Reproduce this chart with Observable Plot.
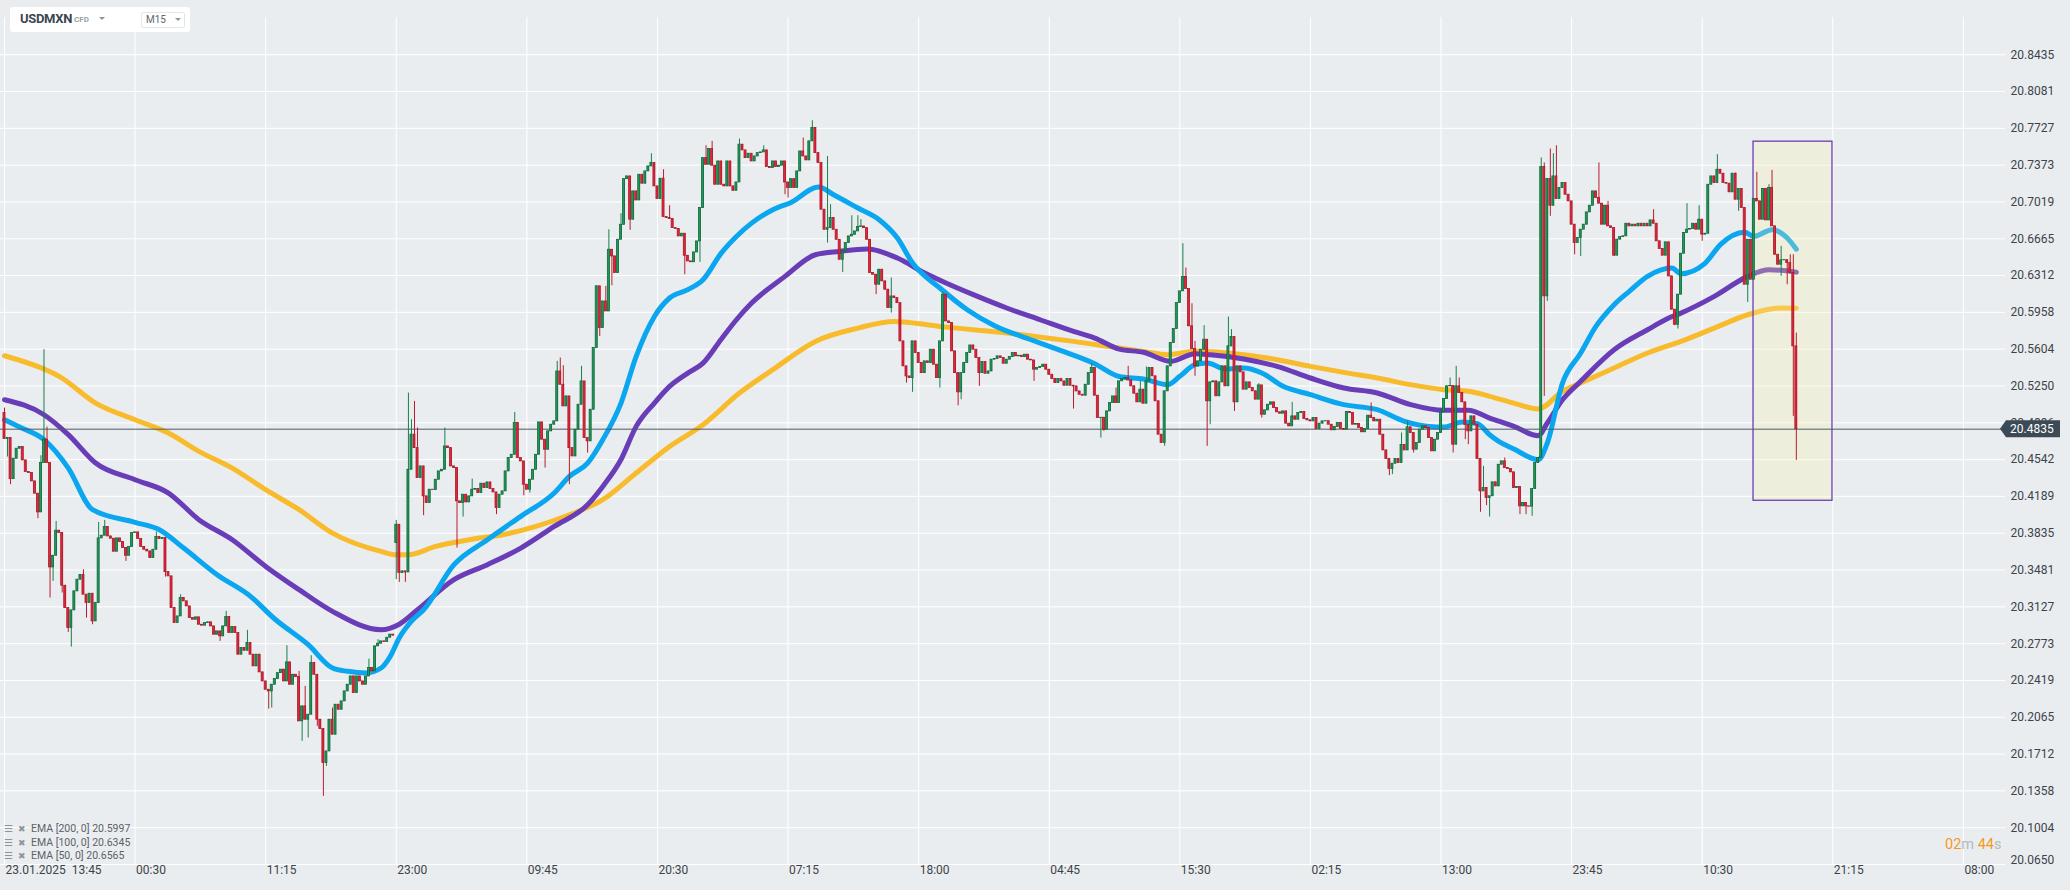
<!DOCTYPE html>
<html>
<head>
<meta charset="utf-8">
<script src="https://cdn.jsdelivr.net/npm/d3@7"></script>
<script src="https://cdn.jsdelivr.net/npm/@observablehq/plot@0.6"></script>
<style>
  html, body { margin: 0; padding: 0; background: #eaedf0; }
  #wrap { position: relative; width: 2070px; height: 890px; overflow: hidden; background: #eaedf0; font-family: Roboto, "Noto Sans", sans-serif; }
  #chart svg { display: block; }
  #hdr { position: absolute; left: 10px; top: 7px; width: 180px; height: 25px; background: #fff; border-radius: 3px; }
  #sym { position: absolute; left: 10px; top: 4px; font-size: 13px; line-height: 16px; font-weight: 700; color: #3b4650; letter-spacing: -0.3px; }
  #cfd { position: absolute; left: 64px; top: 8px; font-size: 8px; line-height: 9px; font-weight: 700; color: #9aa1a7; }
  .tri { position: absolute; width: 0; height: 0; border-left: 3px solid transparent; border-right: 3px solid transparent; border-top: 3px solid #8d959c; }
  #tf { position: absolute; left: 131px; top: 5px; width: 42px; height: 14px; border: 1px solid #e4e7ea; border-radius: 2px; }
  #tfText { position: absolute; left: 4px; top: 1px; font-size: 10px; line-height: 12px; color: #5d666e; }
  #legend { position: absolute; left: 4px; top: 822px; font-size: 10.5px; color: #5b6269; }
  .row { height: 13.5px; line-height: 13.5px; white-space: nowrap; }
  .ico { display: inline-block; width: 14px; color: #8d949a; font-family: "DejaVu Sans"; font-size: 10px; }
  .x { display: inline-block; width: 13px; color: #8d949a; font-family: "DejaVu Sans"; font-size: 9px; }
  #timer { position: absolute; left: 1945px; top: 836px; font-size: 14.5px; line-height: 17px; white-space: nowrap; }
  .or { color: #f39a1e; } .gr { color: #b4b9be; }
</style>
</head>
<body>
<div id="wrap">
  <div id="chart"></div>
  <div id="hdr">
    <div id="sym"></div>
    <div id="cfd"></div>
    <div class="tri" style="left:89px;top:10px;"></div>
    <div id="tf"><div id="tfText"></div><div class="tri" style="left:33px;top:5px;"></div></div>
  </div>
  <div id="legend"></div>
  <div id="timer"></div>
</div>
<script>
// ---------- DATA (prices in pips above 20.0000) ----------
const symbol = "USDMXN";
const symbolType = "CFD";
const timeframe = "M15";
const firstOpen = 4990;
const gapOpens = [[129, 3740]];
const closePips = [
4740,4750,4355,4551,4647,4663,4535,4423,4413,4333,
4215,4035,4509,4734,4509,3506,3618,3859,3836,3330,
3115,2923,3093,3276,3388,3433,3244,3163,3253,2987,
3163,3785,3811,3894,3804,3782,3657,3785,3750,3692,
3618,3702,3836,3843,3779,3702,3676,3660,3596,3676,
3798,3779,3790,3461,3420,3115,2971,3035,3212,3180,
3131,3019,3003,3026,2955,2946,2971,2978,2939,2859,
2891,2843,2939,3029,2875,2933,2875,2667,2731,2705,
2779,2667,2555,2667,2497,2410,2330,2314,2378,2433,
2490,2523,2410,2593,2378,2474,2452,2026,2170,2042,
2090,2587,2474,2042,1952,1625,1737,2042,1898,2186,
2138,2218,2314,2378,2458,2298,2458,2410,2378,2458,
2539,2507,2747,2772,2795,2790,2830,2860,2850,
3916,3452,3468,3458,4445,4782,4653,4365,4477,4189,
4125,4253,4250,4349,4429,4445,4669,4653,4477,4461,
4141,4125,4205,4131,4189,4253,4259,4221,4311,4269,
4323,4259,4227,4077,4205,4237,4429,4557,4589,4894,
4557,4525,4301,4253,4349,4445,4589,4900,4734,4637,
4814,4878,4910,5390,5262,5054,5150,4653,4573,4830,
5070,5294,4750,4718,5022,5615,6208,5807,6063,5967,
6560,6496,6336,6656,6800,7239,7265,6849,7121,7034,
7281,7195,7313,7361,7393,7169,7047,7243,6874,6865,
6855,6768,6759,6688,6714,6502,6448,6440,6534,6640,
6961,7441,7377,7528,7368,7185,7409,7185,7169,7409,
7169,7127,7207,7570,7515,7441,7483,7409,
7457,7489,7496,7515,7355,7345,7409,7355,7368,7409,
7207,7153,7239,7153,7313,7505,7457,7419,7602,7730,
7489,7393,6945,6752,6768,6865,6752,6656,6464,6544,
6624,6688,6704,6736,6778,6784,6768,6656,6336,6320,
6224,6368,6256,6176,6000,6111,6095,6047,5679,5439,
5342,5326,5679,5567,5471,5374,5487,5471,5599,5455,
5326,5679,6128,5871,5855,5583,5374,5189,5374,5471,
5567,5640,5599,5519,5374,5480,5368,5390,5503,5509,
5535,5519,5464,5503,5528,5567,5535,5541,5528,5551,
5503,5496,5407,5423,5432,5455,5407,5358,5317,5278,
5317,5294,5253,5317,5253,5246,5198,5166,5157,5262,
5374,5423,5157,4942,4945,4830,5006,5086,5150,5086,
5295,5317,5327,5304,5247,5176,5093,5215,5080,5295,
5423,5343,5103,4782,4702,5199,5439,5663,5798,6048,
6160,6298,6183,5824,5606,5439,5487,5599,5695,5103,
5285,5295,5151,5285,5439,5247,5631,5721,5093,5439,
5381,5215,5285,5231,5199,5119,5256,4974,5016,5070,
5093,5038,4997,4984,5006,4888,4862,4958,4926,4990,
5000,4933,4920,4910,4942,4837,4888,4910,4912,4878,
4824,4856,4894,4837,4830,5000,4990,4878,4885,4846,
4805,4837,4965,4942,4910,4926,4782,4631,4548,4452,
4503,4548,4510,4683,4631,4853,4798,4638,4702,4830,
4862,4846,4750,4622,4734,4798,4997,5125,5247,5250,
4686,5247,5183,5093,4878,4814,4958,4878,4548,4237,
4269,4173,
4190,4324,4285,4493,4526,4461,4452,4420,4269,4279,
4093,4125,4093,4090,4260,4510,4558,7355,6112,7240,
6983,7265,7047,7153,7201,7089,7025,6801,6625,6673,
6753,6801,6919,6983,7121,7057,7003,6801,6983,6785,
6769,6503,6657,6682,6689,6810,6785,6801,6785,6810,
6785,6810,6785,6842,6810,6641,6567,6503,6631,6304,
5984,5839,6128,6522,6721,6753,6759,6810,6753,6849,
6705,6714,7185,7265,7201,7329,7291,7201,7195,7112,
7291,7041,7144,6961,6224,6656,6272,7047,7025,6849,
7144,6842,7153,6785,6512,6416,6458,6460,6432,6336,
5631,4835
];
// [candle index, high (pips) or null, low (pips) or null]
const wicks = [
[0,5038,null],[1,null,4567],[2,null,4301],[11,null,3974],[12,4580,null],[13,5599,null],[14,4855,null],
[15,null,3212],[16,null,3372],[17,3948,null],[19,null,3260],[21,null,2881],[22,null,2740],[26,3484,null],
[27,null,3019],[29,null,2955],[31,3939,null],[33,3958,null],[40,null,3564],[50,3846,null],[53,null,3413],
[58,3244,null],[71,null,2795],[73,3083,null],[80,2901,null],[87,null,2144],[88,null,2154],[93,2753,null],
[97,2507,null],[98,null,1834],[99,2362,null],[100,null,1866],[101,2657,null],[103,null,1978],[105,null,1305],
[106,null,1593],[108,2154,null],[120,2625,null],[123,2811,null],
[129,3958,3388],[130,null,3362],[132,null,3362],[133,5182,null],[134,4926,null],[135,5102,null],[136,4846,null],
[138,null,4003],[145,4846,null],[149,null,3692],[151,null,3990],[154,4355,null],[162,null,4013],[168,4996,null],
[171,null,4195],[173,null,4221],[178,null,4461],[182,5487,null],[183,5519,null],[184,5445,null],[186,null,4301],
[190,5439,null],[192,null,4605],[195,6214,null],[196,null,5727],[198,6208,null],[199,6752,null],[200,null,6214],
[203,6906,null],[206,null,6746],[213,7483,null],[217,7329,null],[219,6983,null],[224,null,6320],[229,null,6438],
[231,7560,null],[233,7602,null],[242,7624,null],
[250,7560,null],[257,null,7089],[258,null,7057],[263,7634,null],[266,7800,null],[271,7457,6624],[272,6993,null],
[276,null,6342],[279,6887,null],[281,6887,null],[282,6849,null],[287,null,6128],[292,6288,5951],[297,null,5278],
[299,null,5189],[308,null,5230],[309,6150,null],[314,null,5060],[315,null,5118],[321,null,5246],[339,null,5294],
[352,null,5028],[358,5464,null],[361,null,4750],[362,null,4814],[366,5230,null],
[370,5439,null],[374,5295,null],[376,5433,null],[382,null,4670],[388,6618,null],[389,6384,null],[391,6041,null],
[392,5679,5343],[395,5830,null],[396,null,4670],[397,null,4878],[403,5913,null],[404,5792,null],[405,null,5006],
[413,5272,null],[414,null,4942],[424,5093,null],[450,5087,null],[456,null,4388],[457,null,4398],[460,4798,null],
[462,4910,null],[464,null,4606],[476,5327,null],[477,null,4606],[478,5439,null],[479,5327,null],[481,null,4734],
[482,null,4686],[486,null,4036],[487,4478,null],[488,null,4100],
[489,null,3990],[494,4558,null],[499,null,4013],[501,null,4013],[503,null,3997],[506,7442,null],[507,7394,5150],
[508,null,6064],[509,7528,6881],[510,7483,null],[511,7560,null],[517,null,6512],[519,null,6496],[525,7394,null],
[528,7025,null],[530,null,6496],[543,6945,null],[550,null,5830],[551,null,5798],[554,7003,null],[558,6983,null],
[559,null,6641],[564,7474,null],[570,7297,null],[571,null,6929],[574,null,6054],[577,7304,null],[581,7185,null],
[582,7323,null],[585,6592,6304],[587,null,6224],[588,6512,null],[589,6512,4958],[590,5759,4535]
];
const ema200Idx = [0,13,18,30,43,54,64,75,86,97,108,124,129,133,142,153,164,175,186,197,208,219,230,242,253,267,281,293,308,319,330,341,352,367,375,383,392,408,419,430,441,452,463,474,482,489,497,505,513,519,530,541,552,563,574,585,590];
const ema200Val = [5541,5413,5343,5086,4926,4798,4622,4461,4253,4061,3836,3660,3628,3628,3708,3772,3820,3900,4012,4157,4413,4669,4878,5182,5407,5679,5807,5871,5823,5791,5759,5720,5679,5615,5583,5551,5583,5551,5503,5439,5381,5327,5263,5215,5199,5151,5086,5029,5198,5278,5423,5567,5679,5807,5935,5999,5997];
const ema100Idx = [0,13,21,30,43,54,64,75,86,97,108,124,130,136,148,159,170,181,192,197,203,208,214,219,225,230,236,241,246,257,267,275,284,294,303,310,319,330,341,352,359,367,375,384,392,397,408,419,430,441,452,463,474,482,489,497,505,508,513,519,530,541,548,552,563,574,581,590];
const ema100Val = [5118,4974,4782,4509,4349,4221,3965,3772,3516,3292,3083,2907,2960,3099,3388,3532,3692,3900,4109,4285,4544,4862,5086,5246,5374,5470,5700,5887,6047,6304,6512,6544,6567,6480,6336,6240,6128,6000,5887,5775,5711,5605,5574,5487,5561,5551,5510,5439,5327,5231,5183,5071,5016,5016,4942,4862,4772,4894,5118,5295,5599,5791,5903,5951,6112,6304,6368,6345];
const ema50Idx = [0,5,13,21,29,43,51,59,70,81,89,100,108,113,119,124,127,130,134,138,148,159,170,181,186,192,197,203,208,214,219,225,230,236,241,246,253,259,268,273,281,288,294,299,308,317,326,338,347,359,367,375,383,387,392,396,402,408,414,421,430,441,452,461,469,474,480,485,489,492,497,505,508,513,519,524,530,535,541,549,552,560,565,573,576,582,587,590];
const ema50Val = [4926,4855,4734,4461,4061,3939,3868,3692,3436,3228,3010,2763,2539,2507,2491,2539,2650,2830,2990,3099,3532,3772,3997,4221,4381,4509,4734,5086,5535,5919,6096,6176,6272,6528,6688,6816,6945,7015,7163,7089,6961,6848,6672,6432,6192,5983,5829,5695,5599,5464,5342,5317,5263,5343,5455,5471,5413,5423,5375,5247,5167,5071,5022,4910,4862,4856,4904,4888,4782,4718,4644,4542,4702,5278,5567,5823,6032,6160,6304,6384,6330,6432,6609,6727,6689,6753,6673,6565];
const yTicks = [20.8435,20.8081,20.7727,20.7373,20.7019,20.6665,20.6312,20.5958,20.5604,20.5250,20.4896,20.4542,20.4189,20.3835,20.3481,20.3127,20.2773,20.2419,20.2065,20.1712,20.1358,20.1004,20.0650];
const xTickIdx = [0,43,86,129,172,215,258,301,344,387,430,473,516,559,602,645];
const xTickLabels = ["23.01.2025 \u00a013:45","00:30","11:15","23:00","09:45","20:30","07:15","18:00","04:45","15:30","02:15","13:00","23:45","10:30","21:15","08:00"];
const lastPrice = 20.4835;
const highlight = [{i1: 575.9, i2: 601.9, hi: 20.7599, lo: 20.4147}];
const legendNames = ["EMA [200, 0]", "EMA [100, 0]", "EMA [50, 0]"];
const legendValues = ["20.5997", "20.6345", "20.6565"];
const timerMin = "02", timerSec = "44";

// ---------- BUILD ----------
const px = v => 20 + v / 10000;
const wickMap = new Map(wicks.map(w => [w[0], w]));
const gapMap = new Map(gapOpens);
const candles = closePips.map((c, i) => {
  const o = i === 0 ? firstOpen : (gapMap.has(i) ? gapMap.get(i) : closePips[i - 1]);
  let hi = Math.max(o, c), lo = Math.min(o, c);
  const w = wickMap.get(i);
  if (w && w[1] != null) hi = Math.max(hi, w[1]);
  if (w && w[2] != null) lo = Math.min(lo, w[2]);
  return {i, open: px(o), close: px(c), high: px(hi), low: px(lo), up: c >= o};
});
const upC = candles.filter(d => d.up), dnC = candles.filter(d => !d.up);
const mk = (idx, val) => idx.map((i, k) => ({i, v: px(val[k])}));
const ema200 = mk(ema200Idx, ema200Val), ema100 = mk(ema100Idx, ema100Val), ema50 = mk(ema50Idx, ema50Val);
const emaStyle = {x: "i", y: "v", strokeWidth: 5, curve: "monotone-x", strokeLinecap: "round", strokeLinejoin: "round"};

const priceTag = (index, scales, values, dimensions) => {
  const y = scales.y(lastPrice);
  const x0 = dimensions.width - dimensions.marginRight - 5;
  const g = d3.create("svg:g");
  g.append("path")
    .attr("d", `M${x0},${y} L${x0 + 6},${y - 8.5} L${x0 + 60},${y - 8.5} L${x0 + 60},${y + 8.5} L${x0 + 6},${y + 8.5} Z`)
    .attr("fill", "#3b4a55");
  g.append("text").attr("x", x0 + 10).attr("y", y).attr("dy", "0.35em")
    .attr("text-anchor", "start")
    .attr("fill", "#ffffff").attr("font-size", 12).attr("font-family", "Roboto")
    .text(lastPrice.toFixed(4));
  return g.node();
};

const chart = Plot.plot({
  width: 2070, height: 890,
  marginLeft: 0, marginRight: 65, marginTop: 17, marginBottom: 26,
  style: {background: "transparent", fontFamily: "Roboto, sans-serif", overflow: "visible"},
  x: {domain: [-1.317, 658.87], axis: null},
  y: {domain: [20.065, 20.87927], axis: null},
  marks: [
    Plot.gridY(yTicks, {stroke: "#ffffff", strokeOpacity: 1, strokeWidth: 1}),
    Plot.gridX(xTickIdx, {stroke: "#ffffff", strokeOpacity: 1, strokeWidth: 1}),
    Plot.ruleY([20.065], {stroke: "#ffffff", strokeWidth: 1.2}),
    Plot.line(ema200, {...emaStyle, stroke: "#f8bb2c"}),
    Plot.line(ema100, {...emaStyle, stroke: "#6a3db8"}),
    Plot.line(ema50, {...emaStyle, stroke: "#0aa6ef"}),
    Plot.rect(highlight, {x1: "i1", x2: "i2", y1: "lo", y2: "hi", fill: "#faf0a6", fillOpacity: 0.27, stroke: "#6a3db8", strokeWidth: 1.3}),
    Plot.ruleY([lastPrice], {stroke: "#4d5963", strokeWidth: 1}),
    Plot.ruleX(dnC, {x: "i", y1: "low", y2: "high", stroke: "#b81d2c", strokeWidth: 1}),
    Plot.ruleX(upC, {x: "i", y1: "low", y2: "high", stroke: "#17804a", strokeWidth: 1}),
    Plot.rect(dnC, {x1: d => d.i - 0.33, x2: d => d.i + 0.33, y1: "open", y2: "close", fill: "#e52638", stroke: "#a9192a", strokeWidth: 0.8}),
    Plot.rect(upC, {x1: d => d.i - 0.33, x2: d => d.i + 0.33, y1: "open", y2: "close", fill: "#1f9a5a", stroke: "#11683a", strokeWidth: 0.8}),
    Plot.text(yTicks.slice(0, -1), {y: d => d, frameAnchor: "right", dx: 5, textAnchor: "start", text: d => d.toFixed(4), fill: "#3d434a", fontSize: 12}),
    Plot.text(yTicks.slice(-1), {y: d => d, frameAnchor: "right", dx: 5, dy: -4, textAnchor: "start", text: d => d.toFixed(4), fill: "#3d434a", fontSize: 12}),
    Plot.text(xTickIdx, {x: d => d, frameAnchor: "bottom", dy: 9, dx: 1, textAnchor: "start", text: (d, i) => xTickLabels[i], fill: "#3d434a", fontSize: 12}),
    priceTag
  ]
});
document.getElementById("chart").appendChild(chart);

// ---------- HTML overlays ----------
document.getElementById("sym").textContent = symbol;
document.getElementById("cfd").textContent = symbolType;
document.getElementById("tfText").textContent = timeframe;
const leg = document.getElementById("legend");
legendNames.forEach((n, k) => {
  const row = document.createElement("div");
  row.className = "row";
  row.innerHTML = `<span class="ico">\u2630</span><span class="x">\u2716</span>${n} ${legendValues[k]}`;
  leg.appendChild(row);
});
document.getElementById("timer").innerHTML =
  `<span class="or">${timerMin}</span><span class="gr">m</span> <span class="or">${timerSec}</span><span class="gr">s</span>`;
</script>
</body>
</html>
